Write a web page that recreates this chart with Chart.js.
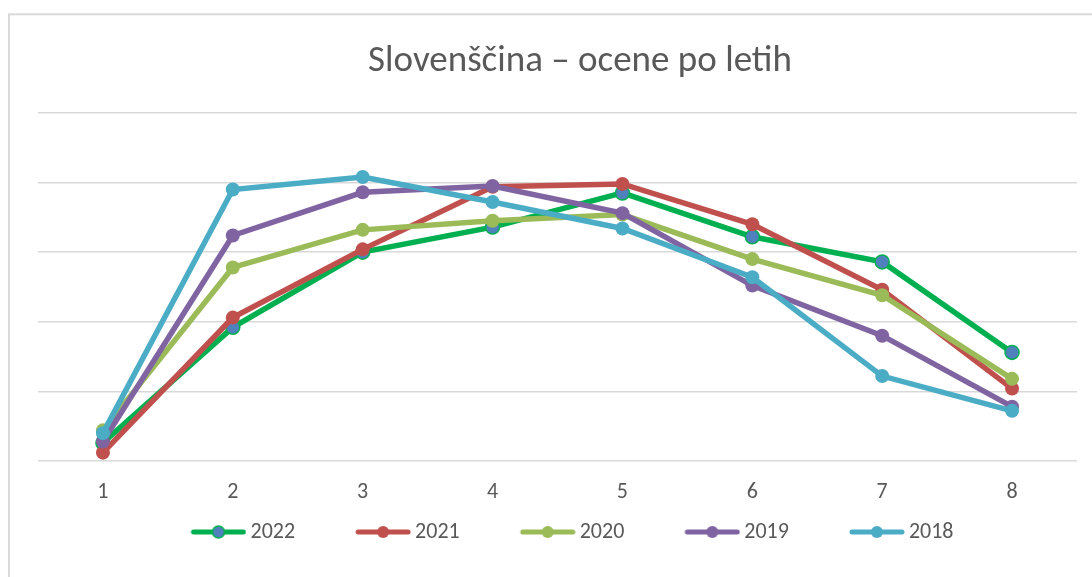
<!DOCTYPE html>
<html>
<head>
<meta charset="utf-8">
<script src="https://cdn.jsdelivr.net/npm/chart.js@4.4.1/dist/chart.umd.min.js"></script>
<style>
  body { margin: 0; background: #fff; }
  #myChart { display: block; }
</style>
</head>
<body>
<canvas id="myChart" width="1092" height="577"></canvas>
<script>
const labels = ['1', '2', '3', '4', '5', '6', '7', '8']
const years = ['2022', '2021', '2020', '2019', '2018']
const y2022 = [1.3, 9.6, 15.0, 16.8, 19.25, 16.1, 14.3, 7.8]
const y2021 = [0.6, 10.3, 15.2, 19.7, 19.9, 17.0, 12.3, 5.2]
const y2020 = [2.2, 13.9, 16.6, 17.25, 17.7, 14.5, 11.9, 5.9]
const y2019 = [1.4, 16.2, 19.3, 19.75, 17.8, 12.6, 9.0, 3.9]
const y2018 = [2.0, 19.5, 20.4, 18.6, 16.7, 13.2, 6.1, 3.6]

const lineColors = ['#00B050', '#C0504D', '#9BBB59', '#8064A2', '#4BACC6']
const pointColors = ['#4F81BD', '#C0504D', '#9BBB59', '#8064A2', '#4BACC6']
const fontName = "Carlito, Lato, sans-serif"

// legend marker: line with a dot, drawn into a small canvas
const boxW = 95
function legendMarker(i) {
    const c = document.createElement('canvas')
    c.width = boxW + 14
    c.height = 16
    const g = c.getContext('2d')
    const x0 = c.width - 56
    g.strokeStyle = lineColors[i]
    g.lineWidth = 5
    g.lineCap = 'round'
    g.beginPath()
    g.moveTo(x0 + 3, 8)
    g.lineTo(c.width - 3, 8)
    g.stroke()
    g.beginPath()
    g.arc(x0 + 28, 8, 6, 0, Math.PI * 2)
    g.fillStyle = pointColors[i]
    g.fill()
    if (i === 0) {
        g.lineWidth = 1.5
        g.strokeStyle = lineColors[0]
        g.stroke()
    }
    return c
}

// outer chart frame, like the Excel chart border
const frame = {
    id: 'frame',
    beforeDraw(chart) {
        const c = chart.ctx
        c.save()
        c.strokeStyle = '#d9d9d9'
        c.lineWidth = 2
        c.strokeRect(9, 14.3, 1300, 800)
        c.restore()
    }
}

// title is centred on the whole frame, not on the plot
const titleShift = {
    id: 'titleShift',
    afterLayout(chart) {
        const t = chart.titleBlock
        if (t) {
            t.left += 31
            t.right += 31
        }
    }
}

const series = [y2022, y2021, y2020, y2019, y2018]
const datasets = series.map((d, i) => ({
    label: years[i],
    data: d,
    borderColor: lineColors[i],
    backgroundColor: pointColors[i],
    borderWidth: 5.5,
    pointRadius: 7,
    pointHoverRadius: 7,
    pointBackgroundColor: pointColors[i],
    pointBorderColor: lineColors[i],
    pointBorderWidth: i === 0 ? 1.5 : 0,
    tension: 0,
    order: 5 - i
}))

const ctx = document.getElementById('myChart').getContext('2d')
const myChart = new Chart(ctx, {
    type: 'line',
    data: { labels: labels, datasets: datasets },
    plugins: [frame, titleShift],
    options: {
        responsive: false,
        animation: false,
        devicePixelRatio: 1,
        layout: { padding: { left: 21, right: 15, top: 0, bottom: 24 } },
        plugins: {
            title: {
                display: true,
                text: 'Slovenščina – ocene po letih',
                color: '#595959',
                font: { family: fontName, size: 37, weight: 'normal' },
                padding: { top: 40, bottom: 28.5 }
            },
            legend: {
                position: 'bottom',
                labels: {
                    usePointStyle: true,
                    pointStyleWidth: boxW,
                    padding: 14,
                    color: '#595959',
                    font: { family: fontName, size: 22 },
                    generateLabels: (chart) => chart.data.datasets.map((ds, i) => ({
                        text: ds.label,
                        pointStyle: legendMarker(i),
                        fillStyle: ds.backgroundColor,
                        strokeStyle: ds.borderColor,
                        lineWidth: 0,
                        fontColor: '#595959',
                        datasetIndex: i,
                        hidden: false
                    }))
                }
            },
            tooltip: { enabled: false }
        },
        scales: {
            x: {
                offset: true,
                grid: { display: false, drawTicks: false },
                border: { display: false },
                ticks: {
                    color: '#595959',
                    font: { family: fontName, size: 22 },
                    padding: 18,
                    maxRotation: 0
                },
                afterFit: (scale) => { scale.height = 46 }
            },
            y: {
                min: 0,
                max: 25,
                ticks: { display: false, stepSize: 5 },
                grid: { color: '#d9d9d9', lineWidth: 1.5, drawTicks: false },
                border: { display: false },
                afterFit: (scale) => { scale.width = 17 }
            }
        }
    }
})
</script>
</body>
</html>
